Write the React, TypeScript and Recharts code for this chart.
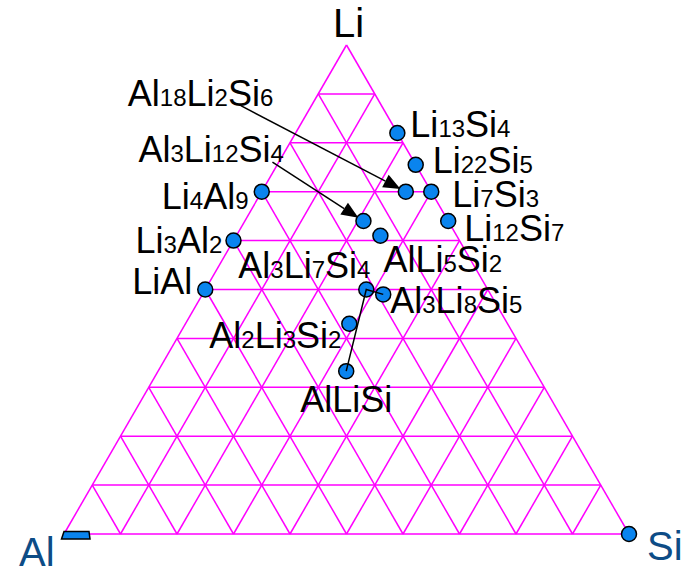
import { ScatterChart, Scatter, XAxis, YAxis, ReferenceLine } from 'recharts';

const H = Math.sqrt(3) / 2;

// compounds, composition (Al = 1 - Li - Si)
const compounds = [
  'Al18Li2Si6', 'Al3Li12Si4', 'Li4Al9', 'Li3Al2', 'LiAl', 'Li13Si4', 'Li22Si5',
  'Li7Si3', 'Li12Si7', 'AlLi5Si2', 'Al3Li7Si4', 'Al3Li8Si5', 'Al2Li3Si2', 'AlLiSi',
];
const liFrac = [0.70, 0.64, 0.70, 0.60, 0.50, 0.82, 0.755, 0.70, 0.64, 0.61, 0.50, 0.49, 0.43, 0.333];
const siFrac = [0.255, 0.21, 0, 0, 0, 0.18, 0.245, 0.30, 0.36, 0.255, 0.285, 0.32, 0.29, 0.333];

// corners of the triangle
const corners = ['Al', 'Si', 'Li'];
const cornerLi = [0, 0, 1];
const cornerSi = [0, 1, 0];

// grid every 10 %
const gridSteps = [0, 0.1, 0.2, 0.3, 0.4, 0.5, 0.6, 0.7, 0.8, 0.9];

// tie line drawn through these compounds
const tieLine = ['AlLiSi', 'Al3Li7Si4', 'Al3Li8Si5'];

const toXY = (li: number, si: number) => ({ x: si + li / 2, y: li * H });

const MAGENTA = '#FF00FF';
const DOT = '#0A84EE';
const CORNER_TXT = '#0D4C86';
const FONT = '"Liberation Sans", Arial, sans-serif';

// label placement in px relative to the dot (text start / baseline), arrow start if any
const labelPos: Record<string, { dx: number; dy: number; ax?: number; ay?: number }> = {
  Al18Li2Si6: { dx: -278, dy: -86, ax: -165, ay: -86 },
  Al3Li12Si4: { dx: -225, dy: -59, ax: -91, ay: -59 },
  Li4Al9: { dx: -100, dy: 17 },
  Li3Al2: { dx: -98, dy: 12 },
  LiAl: { dx: -73, dy: 4 },
  Li13Si4: { dx: 13, dy: 4 },
  Li22Si5: { dx: 17, dy: 8 },
  Li7Si3: { dx: 21, dy: 15 },
  Li12Si7: { dx: 16, dy: 20 },
  AlLi5Si2: { dx: 3, dy: 36 },
  Al3Li7Si4: { dx: -128, dy: -12 },
  Al3Li8Si5: { dx: 7, dy: 19 },
  Al2Li3Si2: { dx: -140, dy: 24 },
  AlLiSi: { dx: -46, dy: 41 },
};

const points = compounds.map((name, i) => ({ name, ...toXY(liFrac[i], siFrac[i]) }));
const cornerPts = corners.map((name, i) => ({ name, ...toXY(cornerLi[i], cornerSi[i]) }));
const tiePts = tieLine.map((n) => points.find((p) => p.name === n)!);

const gridSegs: { x: number; y: number }[][] = [];
gridSteps.forEach((k) => {
  gridSegs.push([toXY(k, 0), toXY(k, 1 - k)]); // constant Li
  gridSegs.push([toXY(0, k), toXY(1 - k, k)]); // constant Si
  gridSegs.push([toXY(0, 1 - k), toXY(1 - k, 0)]); // constant Al
});

function Formula({ x, y, name }: { x: number; y: number; name: string }) {
  const parts = name.match(/[A-Za-z]+|\d+/g) || [];
  return (
    <text x={x} y={y} fontFamily={FONT} fill="#000">
      {parts.map((p, i) => (
        <tspan key={i} fontSize={/\d/.test(p) ? 24 : 36}>{p}</tspan>
      ))}
    </text>
  );
}

function LabelShape(props: any) {
  const { cx, cy, payload } = props;
  const pos = labelPos[payload.name];
  let arrow = null;
  if (pos.ax !== undefined && pos.ay !== undefined) {
    const sx = cx + pos.ax;
    const sy = cy + pos.ay;
    const len = Math.hypot(cx - sx, cy - sy);
    const ux = (cx - sx) / len;
    const uy = (cy - sy) / len;
    const tx = cx - ux * 6;
    const ty = cy - uy * 6;
    const bx = tx - ux * 17;
    const by = ty - uy * 17;
    const px = -uy * 7;
    const py = ux * 7;
    arrow = (
      <g>
        <line x1={sx} y1={sy} x2={bx} y2={by} stroke="#000" strokeWidth={1.5} />
        <polygon points={`${tx},${ty} ${bx + px},${by + py} ${bx - px},${by - py}`} fill="#000" />
      </g>
    );
  }
  return (
    <g>
      {arrow}
      <Formula x={cx + pos.dx} y={cy + pos.dy} name={payload.name} />
    </g>
  );
}

function DotShape(props: any) {
  const { cx, cy } = props;
  return <circle cx={cx} cy={cy} r={7.5} fill={DOT} stroke="#000" strokeWidth={1.5} />;
}

function CornerShape(props: any) {
  const { cx, cy, payload } = props;
  if (payload.name === 'Li') {
    return (
      <text x={cx + 2} y={cy - 8} textAnchor="middle" fontFamily={FONT} fontSize={40} fill="#000">Li</text>
    );
  }
  if (payload.name === 'Si') {
    return (
      <g>
        <circle cx={cx} cy={cy} r={7.5} fill={DOT} stroke="#000" strokeWidth={1.5} />
        <text x={cx + 18} y={cy + 26} fontFamily={FONT} fontSize={40} fill={CORNER_TXT}>Si</text>
      </g>
    );
  }
  return (
    <g>
      <polygon
        points={`${cx},${cy - 2.5} ${cx + 25},${cy - 2.5} ${cx + 26},${cy + 5} ${cx - 2.5},${cy + 5}`}
        fill={DOT}
        stroke="#000"
        strokeWidth={1.5}
      />
      <text x={cx - 45} y={cy + 32} fontFamily={FONT} fontSize={40} fill={CORNER_TXT}>Al</text>
    </g>
  );
}

export default function App() {
  return (
    <div style={{ position: 'absolute', left: 0, top: 0, width: 687, height: 567, background: '#fff' }}>
      <ScatterChart width={687} height={567} margin={{ top: 45, right: 58, bottom: 33, left: 64 }}>
        <XAxis type="number" dataKey="x" domain={[0, 1]} hide />
        <YAxis type="number" dataKey="y" domain={[0, H]} hide />
        {gridSegs.map((s, i) => (
          <ReferenceLine key={i} segment={s} stroke={MAGENTA} strokeWidth={1.5} ifOverflow="visible" />
        ))}
        <Scatter data={points} shape={LabelShape} isAnimationActive={false} />
        <Scatter data={points} shape={DotShape} isAnimationActive={false} />
        <Scatter data={cornerPts} shape={CornerShape} isAnimationActive={false} />
        <Scatter
          data={tiePts}
          line={{ stroke: '#000', strokeWidth: 1.5 }}
          shape={() => <g />}
          isAnimationActive={false}
        />
      </ScatterChart>
    </div>
  );
}
